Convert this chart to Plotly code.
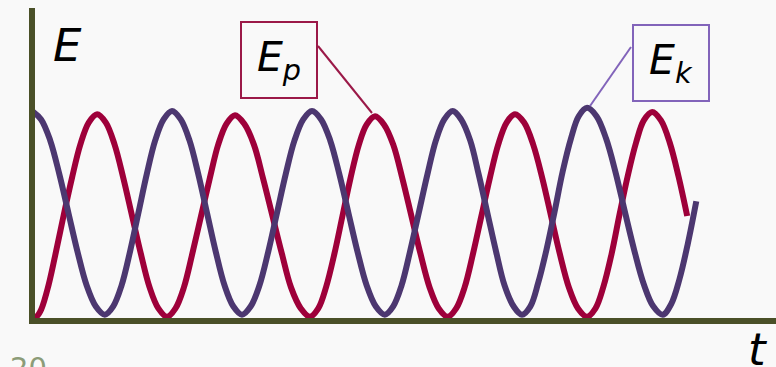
import plotly.graph_objects as go

# ---- data (time in arbitrary units, energy normalised) ----
t_ep = [0, 0.11, 0.22, 0.33, 0.45, 0.57, 0.69, 0.81, 0.93,
        1.055, 1.18, 1.305, 1.43, 1.555, 1.68, 1.805, 1.93,
        2.05, 2.17, 2.29, 2.415, 2.54, 2.66, 2.78, 2.90,
        3.03, 3.17, 3.30, 3.435, 3.57, 3.70, 3.84, 3.97,
        4.09, 4.20, 4.32, 4.435, 4.55, 4.67, 4.78, 4.90,
        5.03, 5.16, 5.29, 5.42, 5.55, 5.68, 5.81, 5.94,
        6.06, 6.18, 6.30, 6.42, 6.54, 6.66, 6.78, 6.90,
        7.03, 7.16, 7.29, 7.415, 7.54, 7.67, 7.80, 7.93,
        8.05, 8.16, 8.28, 8.395, 8.51, 8.63, 8.74, 8.86,
        8.985, 9.11, 9.235, 9.36]
e_ep = [0, 0.04, 0.15, 0.31, 0.5, 0.68, 0.84, 0.945, 0.985,
        0.945, 0.84, 0.68, 0.50, 0.32, 0.16, 0.06, 0.02,
        0.06, 0.16, 0.32, 0.50, 0.68, 0.84, 0.94, 0.98,
        0.94, 0.84, 0.68, 0.50, 0.32, 0.16, 0.06, 0.02,
        0.06, 0.16, 0.32, 0.50, 0.68, 0.84, 0.935, 0.975,
        0.935, 0.84, 0.68, 0.50, 0.32, 0.16, 0.06, 0.02,
        0.06, 0.16, 0.32, 0.50, 0.68, 0.84, 0.945, 0.985,
        0.945, 0.84, 0.68, 0.50, 0.32, 0.16, 0.06, 0.02,
        0.06, 0.16, 0.32, 0.51, 0.69, 0.85, 0.955, 0.995,
        0.955, 0.85, 0.69, 0.50]

t_ek = [0, 0.13, 0.26, 0.39, 0.52, 0.65, 0.78, 0.91, 1.04,
        1.16, 1.28, 1.40, 1.52, 1.64, 1.76, 1.88, 2.00,
        2.125, 2.25, 2.375, 2.50, 2.625, 2.75, 2.875, 3.00,
        3.125, 3.25, 3.375, 3.50, 3.625, 3.75, 3.875, 4.00,
        4.13, 4.26, 4.39, 4.52, 4.65, 4.78, 4.91, 5.04,
        5.16, 5.28, 5.40, 5.525, 5.65, 5.77, 5.89, 6.01,
        6.13, 6.26, 6.38, 6.505, 6.63, 6.75, 6.88, 7.00,
        7.12, 7.23, 7.35, 7.465, 7.58, 7.70, 7.81, 7.93,
        8.065, 8.20, 8.335, 8.47, 8.605, 8.74, 8.875, 9.01,
        9.13, 9.25, 9.37, 9.49]
e_ek = [1.0, 0.96, 0.86, 0.70, 0.515, 0.33, 0.17, 0.07, 0.03,
        0.07, 0.17, 0.33, 0.515, 0.70, 0.86, 0.96, 1.0,
        0.96, 0.86, 0.70, 0.515, 0.33, 0.17, 0.07, 0.03,
        0.07, 0.17, 0.33, 0.515, 0.70, 0.86, 0.96, 1.0,
        0.96, 0.86, 0.70, 0.515, 0.33, 0.17, 0.07, 0.03,
        0.07, 0.17, 0.33, 0.515, 0.70, 0.86, 0.96, 1.0,
        0.96, 0.86, 0.70, 0.515, 0.33, 0.17, 0.07, 0.03,
        0.07, 0.18, 0.34, 0.52, 0.71, 0.87, 0.975, 1.015,
        0.975, 0.87, 0.71, 0.52, 0.335, 0.175, 0.07, 0.03,
        0.08, 0.20, 0.37, 0.57]

label_y = "<i>E</i>"
label_x = "<i>t</i>"
label_ep = "<i>E</i><sub><i>p</i></sub>"
label_ek = "<i>E</i><sub><i>k</i></sub>"
page_no = "20"

# ---- styling ----
C_EP = "rgb(158,0,58)"
C_EK = "rgb(76,55,112)"
C_AXIS = "rgb(74,80,40)"
C_EP_BOX = "rgb(155,25,72)"
C_EK_BOX = "rgb(130,100,186)"
BG = "#f9f9f9"
FONT = "DejaVu Sans"

W, H = 776, 367
ML, MR, MT, MB = 35, 0, 8, 49
PW, PH = W - ML - MR, H - MT - MB


def px(x):
    return (x - ML) / PW


def py(y):
    return (H - MB - y) / PH


fig = go.Figure()
fig.add_trace(go.Scatter(x=t_ep, y=e_ep, mode="lines",
                         line=dict(color=C_EP, width=6, shape="spline"),
                         hoverinfo="skip", showlegend=False))
fig.add_trace(go.Scatter(x=t_ek, y=e_ek, mode="lines",
                         line=dict(color=C_EK, width=6, shape="spline"),
                         hoverinfo="skip", showlegend=False))

annotations = [
    dict(text=label_y, x=px(67), y=py(45), font=dict(size=45, color="black", family=FONT)),
    dict(text=label_x, x=px(758), y=py(349), font=dict(size=45, color="black", family=FONT)),
    dict(text=label_ep, x=px(279), y=py(60), width=74, height=74, borderpad=0,
         bordercolor=C_EP_BOX, borderwidth=2, font=dict(size=41, color="black", family=FONT)),
    dict(text=label_ek, x=px(671), y=py(63), width=74, height=74, borderpad=0,
         bordercolor=C_EK_BOX, borderwidth=2, font=dict(size=41, color="black", family=FONT)),
    dict(text=page_no, x=px(28), y=py(368), font=dict(size=29, color="rgb(140,156,120)", family=FONT)),
]
for a in annotations:
    a.update(xref="paper", yref="paper", showarrow=False, xanchor="center", yanchor="middle")

shapes = [
    dict(type="line", xref="paper", yref="paper", x0=px(318), y0=py(46), x1=px(372), y1=py(113),
         line=dict(color=C_EP_BOX, width=2)),
    dict(type="line", xref="paper", yref="paper", x0=px(631), y0=py(47), x1=px(590), y1=py(106),
         line=dict(color=C_EK_BOX, width=2)),
]

# axis ranges: t=0 sits at the vertical axis, E=0 on the horizontal axis
T_PER_PX = 1 / 70.0
E_PER_PX = 1 / 210.0
x0_px, y0_px = 32, 321
fig.update_layout(
    width=W, height=H,
    margin=dict(l=ML, r=MR, t=MT, b=MB, pad=0),
    paper_bgcolor=BG, plot_bgcolor=BG,
    xaxis=dict(range=[(ML - x0_px) * T_PER_PX, (W - MR - x0_px) * T_PER_PX],
               showgrid=False, zeroline=False, showticklabels=False, ticks="",
               showline=True, linecolor=C_AXIS, linewidth=6, fixedrange=True),
    yaxis=dict(range=[(y0_px - (H - MB)) * E_PER_PX, (y0_px - MT) * E_PER_PX],
               showgrid=False, zeroline=False, showticklabels=False, ticks="",
               showline=True, linecolor=C_AXIS, linewidth=6, fixedrange=True),
    annotations=annotations,
    shapes=shapes,
    showlegend=False,
)

fig.write_html("out.html",
               config={"displayModeBar": False},
               post_script="document.body.style.margin='0';document.body.style.overflow='hidden';")
